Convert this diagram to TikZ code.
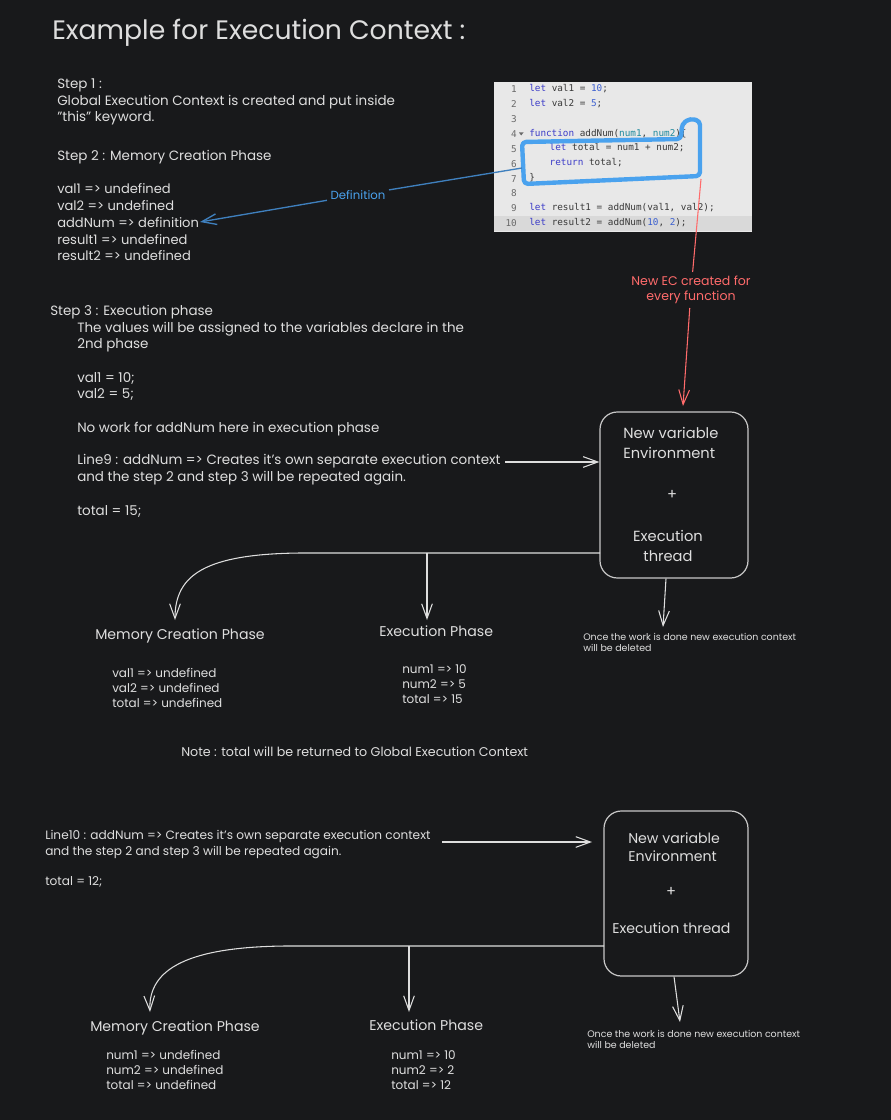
\documentclass[tikz,border=0pt]{standalone}
\usepackage{fontspec}
\setmainfont{Poppins}
\newfontfamily\codefont{DejaVu Sans Mono}
\usetikzlibrary{arrows.meta}
\definecolor{canvas}{HTML}{18191B}
\definecolor{chalk}{HTML}{DEDEDE}
\definecolor{penblue}{HTML}{4AA2EE}
\definecolor{linkblue}{HTML}{3F80BE}
\definecolor{penred}{HTML}{FF6B6B}
\definecolor{codebg}{HTML}{E8E8E8}
\definecolor{codehl}{HTML}{D9D9D9}
\definecolor{codekw}{HTML}{3C3CC8}
\definecolor{codenum}{HTML}{3B5FD0}
\definecolor{codepar}{HTML}{1F8A9E}
\definecolor{codetxt}{HTML}{3A3A3A}
\definecolor{codeln}{HTML}{6A6A6A}
\tikzset{note/.style={text=chalk, inner sep=0pt, anchor=west, align=left, font=\fontsize{10.1}{12.5}\selectfont}}
\tikzset{vals/.style={note, font=\fontsize{9}{11.25}\selectfont}}
\tikzset{tiny/.style={note, font=\fontsize{7.1}{8.25}\selectfont}}
\tikzset{head/.style={note, font=\fontsize{10.6}{15}\selectfont}}
\tikzset{inbox/.style={note, font=\fontsize{11}{15}\selectfont}}
\tikzset{ecbox/.style={draw=chalk!90!black, line width=0.9pt, rounded corners=13pt}}
\tikzset{wire/.style={draw=chalk, line width=0.8pt, -{Straight Barb[length=11pt,width=8pt]}}}
\tikzset{codeline/.style={anchor=west, inner sep=0pt, text=codetxt, font=\codefont\fontsize{7}{8}\selectfont}}

\begin{document}
\begin{tikzpicture}[x=0.75pt, y=-0.75pt]
        \fill[canvas] (0,0) rectangle (891,1120);
        \useasboundingbox (0,0) rectangle (891,1120);

        % heading and step 1 / step 2
        \node[note, font=\fontsize{20}{24}\selectfont] (title) at (52, 33) {Example for Execution Context :};
        \node[note] (step1) at (57, 102) {Step 1 :\\Global Execution Context is created and put inside\\"this" keyword.};
        \node[note] (step2) at (57, 157.5) {Step 2 : Memory Creation Phase};
        \node[note, font=\fontsize{9.8}{12.56}\selectfont] (vars) at (57, 222.5)
        {val1 => undefined\\val2 => undefined\\addNum => definition\\result1 => undefined\\result2 => undefined};
        \coordinate (defend) at (200, 222);

        % code snippet
        \fill[codebg] (494, 82) rectangle (752, 232);
        \fill[codehl] (494, 216) rectangle (752, 231);
        \foreach \n/\src in {
                1/{\textcolor{codekw}{let} val1 = \textcolor{codenum}{10};},
                2/{\textcolor{codekw}{let} val2 = \textcolor{codenum}{5};},
                3/{},
                4/{\textcolor{codekw}{function} addNum(\textcolor{codepar}{num1}, \textcolor{codepar}{num2})\{},
                5/{\hspace*{4ex}\textcolor{codekw}{let} total = num1 + num2;},
                6/{\hspace*{4ex}\textcolor{codekw}{return} total;},
                7/{\}},
                8/{},
                9/{\textcolor{codekw}{let} result1 = addNum(val1, val2);},
                10/{\textcolor{codekw}{let} result2 = addNum(\textcolor{codenum}{10}, \textcolor{codenum}{2});}}
        {
            \node[codeline, anchor=east, text=codeln] (ln\n) at (517, 74.3 + 14.9*\n) {\n};
            \node[codeline] (code\n) at (529, 74.3 + 14.9*\n) {\strut\src};
        }
        \fill[codeln] (519, 132.5) -- (523.5, 132.5) -- (521.2, 135.5) -- cycle;

        % hand drawn mark round the function body
        \draw[penblue, line width=3.3pt, rounded corners=3pt, line join=round]
            (700, 176) -- (524, 184) -- (522, 142) -- (681, 139) -- (682, 124) -- (690, 118.5) -- (700, 121) -- cycle;
        \coordinate (hlw) at (522, 168);
        \coordinate (hlse) at (701, 179);

        \node[text=penblue, fill=canvas, inner sep=2.5pt, font=\fontsize{8.8}{10}\selectfont] (deflbl) at (358, 195) {Definition};
        \draw[linkblue, line width=1pt] (hlw) -- (deflbl);
        \draw[linkblue, line width=1pt, -{Straight Barb[length=11pt,width=8pt]}] (deflbl) -- (defend);

        \node[text=penred, fill=canvas, inner sep=3pt, align=center, font=\fontsize{9.4}{11}\selectfont] (eclbl) at (691, 290)
        {New EC created for\\every function};
        \coordinate (ectip) at (683, 406);
        \draw[penred, line width=0.8pt] (hlse) -- (eclbl);
        \draw[penred, line width=0.8pt, -{Straight Barb[length=11pt,width=8pt]}] (eclbl) -- (ectip);

        % step 3
        \node[note] (step3) at (50, 312) {Step 3 : Execution phase};
        \node[note] (s3a) at (77, 337) {The values will be assigned to the variables declare in the\\2nd phase};
        \node[note] (s3b) at (77, 386.5) {val1 = 10;\\val2 = 5;};
        \node[note] (s3c) at (77, 429) {No work for addNum here in execution phase};
        \node[note] (line9) at (77, 470) {Line9 : addNum => Creates it's own separate execution context\\and the step 2 and step 3 will be repeated again.};
        \node[note] (total1) at (77, 511) {total = 15;};
        \coordinate (l9end) at (505, 462);

        % first new execution context
        \node[ecbox, minimum width=111pt, minimum height=124.5pt] (box1) at (674, 495) {};
        \node[inbox] (env1) at (623, 443) {New variable\\Environment};
        \node[inbox, anchor=center] (plus1) at (672, 495) {+};
        \node[inbox, anchor=center, align=center] (exec1) at (668, 545.5) {Execution\\thread};
        \draw[wire] (l9end) -- (box1.west |- l9end);

        \node[head] (mem1) at (95, 636) {Memory Creation Phase};
        \node[head] (exe1) at (379, 631) {Execution Phase};
        \node[tiny] (once1) at (583, 642.5) {Once the work is done new execution context\\will be deleted};
        \node[vals] (memv1) at (112, 688) {val1 => undefined\\val2 => undefined\\total => undefined};
        \node[vals] (exev1) at (402, 684) {num1 => 10\\num2 => 5\\total => 15};
        \node[note, font=\fontsize{9.5}{12}\selectfont] (note1) at (181, 752) {Note : total will be returned to Global Execution Context};

        \coordinate (sp1) at (600, 553);
        \coordinate (j1) at (427, 553);
        \coordinate (m1) at (175, 620);
        \draw[wire] (sp1) -- (300, 553) .. controls (205, 554) and (175, 575) .. (m1);
        \draw[wire] (j1) -- (j1 |- m1);
        \draw[wire] ([xshift=-6pt]box1.south) -- (663, 627);

        % second new execution context
        \node[note, font=\fontsize{9.1}{12}\selectfont] (line10) at (45, 845) {Line10 : addNum => Creates it's own separate execution context\\and the step 2 and step 3 will be repeated again.};
        \node[note, font=\fontsize{9.1}{12}\selectfont] (total2) at (45, 882) {total = 12;};
        \coordinate (l10end) at (442, 842);
        \coordinate (l10tip) at (592, 842);
        \draw[wire] (l10end) -- (l10tip);

        \node[ecbox, minimum width=108pt, minimum height=123.75pt] (box2) at (676, 893.5) {};
        \node[inbox, font=\fontsize{10.6}{13.5}\selectfont] (env2) at (628, 847) {New variable\\Environment};
        \node[inbox, anchor=center] (plus2) at (671, 892) {+};
        \node[inbox, font=\fontsize{10.6}{13.5}\selectfont] (exec2) at (612, 928) {Execution thread};

        \node[head] (mem2) at (90, 1028) {Memory Creation Phase};
        \node[head] (exe2) at (369, 1025) {Execution Phase};
        \node[tiny] (once2) at (587, 1039.5) {Once the work is done new execution context\\will be deleted};
        \node[vals] (memv2) at (106, 1070) {num1 => undefined\\num2 => undefined\\total => undefined};
        \node[vals] (exev2) at (391, 1070) {num1 => 10\\num2 => 2\\total => 12};

        \coordinate (sp2) at (604, 946);
        \coordinate (j2) at (409, 946);
        \coordinate (m2) at (150, 1012);
        \draw[wire] (sp2) -- (285, 946) .. controls (190, 947) and (148, 968) .. (m2);
        \draw[wire] (j2) -- (j2 |- m2);
        \draw[wire] ([xshift=-1.5pt]box2.south) -- (680, 1022);
    \end{tikzpicture}
\end{document}
